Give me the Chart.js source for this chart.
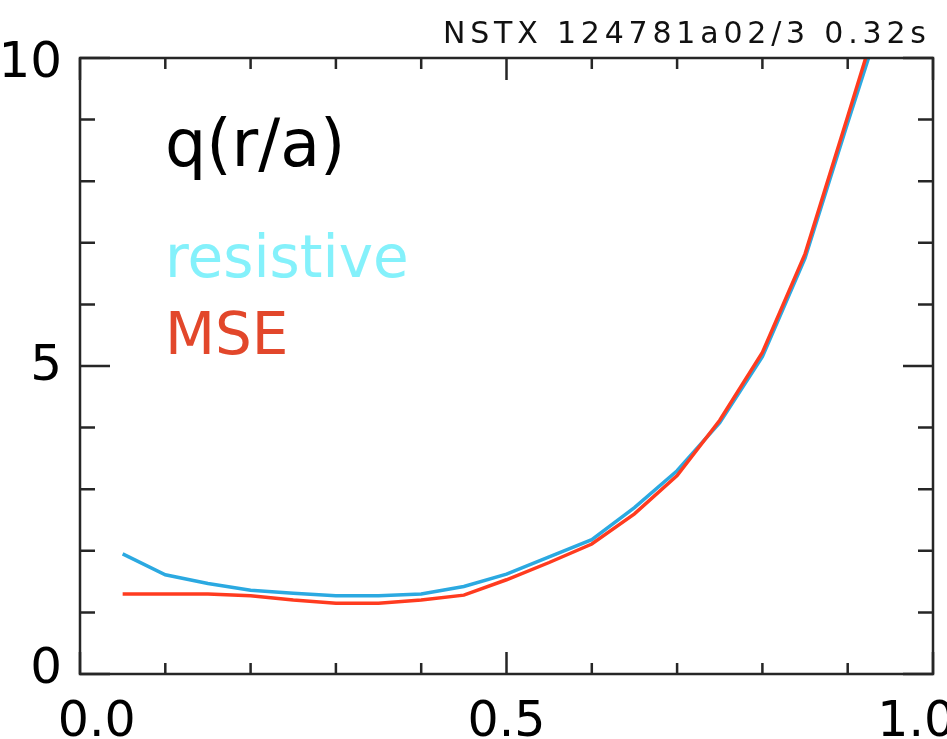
<!DOCTYPE html>
<html><head><meta charset="utf-8">
<script src="https://cdn.jsdelivr.net/npm/chart.js@4.4.0/dist/chart.umd.min.js"></script>
<style>html,body{margin:0;padding:0;background:#fff;overflow:hidden}canvas{display:block}</style>
</head><body>
<canvas id="c" width="947" height="739"></canvas>
<script>
// r/a grid and q profiles
const rOverA      = [0.05,0.10,0.15,0.20,0.25,0.30,0.35,0.40,0.45,0.50,0.55,0.60,0.65,0.70,0.75,0.80,0.85,0.90,0.95];
const qResistive  = [1.95,1.61,1.47,1.36,1.31,1.27,1.27,1.30,1.42,1.62,1.90,2.18,2.70,3.30,4.08,5.15,6.75,8.95,11.1];
const qMSE        = [1.30,1.30,1.30,1.27,1.20,1.15,1.15,1.20,1.28,1.53,1.81,2.11,2.60,3.22,4.12,5.22,6.82,9.05,11.3];

const xTickValues = [0, 0.5, 1.0];
const xTickLabels = ['0.0', '0.5', '1.0'];
const xMinorTicks = [0.1, 0.2, 0.3, 0.4, 0.6, 0.7, 0.8, 0.9];
const yTickValues = [0, 5, 10];
const yTickLabels = ['0', '5', '10'];
const yMinorTicks = [1, 2, 3, 4, 6, 7, 8, 9];

const titleText = 'NSTX 124781a02/3 0.32s';
const panelLabel = 'q(r/a)';
const seriesNames = ['resistive', 'MSE'];

const AXIS = '#262626';

const framePlugin = {
  id: 'frame',
  afterDatasetsDraw(chart) {
    const ctx = chart.ctx, a = chart.chartArea;
    const xs = chart.scales.x, ys = chart.scales.y;
    ctx.save();
    ctx.strokeStyle = AXIS;
    ctx.lineWidth = 2.5;
    ctx.strokeRect(a.left, a.top, a.right - a.left, a.bottom - a.top);
    ctx.beginPath();
    const xt = (v, len) => {
      const p = xs.getPixelForValue(v);
      ctx.moveTo(p, a.bottom); ctx.lineTo(p, a.bottom - len);
      ctx.moveTo(p, a.top); ctx.lineTo(p, a.top + len);
    };
    const yt = (v, len) => {
      const p = ys.getPixelForValue(v);
      ctx.moveTo(a.left, p); ctx.lineTo(a.left + len, p);
      ctx.moveTo(a.right, p); ctx.lineTo(a.right - len, p);
    };
    xMinorTicks.forEach(v => xt(v, 11));
    xTickValues.forEach(v => xt(v, 22));
    yMinorTicks.forEach(v => yt(v, 15));
    yTickValues.forEach(v => yt(v, 30));
    ctx.stroke();
    ctx.restore();
  },
  afterDraw(chart) {
    const ctx = chart.ctx;
    ctx.save();
    ctx.textBaseline = 'alphabetic';
    ctx.textAlign = 'left';
    ctx.font = '65px "DejaVu Sans"';
    ctx.fillStyle = '#000';
    ctx.fillText(panelLabel, 165, 166);
    ctx.font = '58px "DejaVu Sans"';
    ctx.fillStyle = '#84F1FB';
    ctx.fillText(seriesNames[0], 165, 277);
    ctx.fillStyle = '#E2472B';
    ctx.fillText(seriesNames[1], 165, 354);
    // title
    ctx.font = '30px "DejaVu Sans"';
    ctx.fillStyle = '#111';
    const w = ctx.measureText(titleText).width;
    const sp = Math.max(0, (483 - w) / (titleText.length - 1));
    if ('letterSpacing' in ctx) ctx.letterSpacing = sp.toFixed(2) + 'px';
    ctx.fillText(titleText, 443, 43);
    ctx.restore();
  }
};

const pts = ys => rOverA.map((x, i) => ({x, y: ys[i]}));

new Chart(document.getElementById('c'), {
  type: 'line',
  data: {
    datasets: [
      { label: seriesNames[0], data: pts(qResistive), borderColor: '#2BA9E1', borderWidth: 3.5, pointRadius: 0, tension: 0, order: 1 },
      { label: seriesNames[1], data: pts(qMSE), borderColor: '#FF3B1F', borderWidth: 3.5, pointRadius: 0, tension: 0, order: 0 }
    ]
  },
  options: {
    responsive: false,
    animation: false,
    devicePixelRatio: 1,
    layout: { padding: { left: 0, right: 14, top: 58, bottom: 0 } },
    plugins: { legend: { display: false }, tooltip: { enabled: false }, title: { display: false } },
    scales: {
      x: { type: 'linear', min: 0, max: 1, display: false },
      y: { type: 'linear', min: 0, max: 10, display: false },
      xl: {
        type: 'linear', position: 'bottom', min: -0.0205, max: 1.0205,
        afterBuildTicks: s => { s.ticks = xTickValues.map(v => ({ value: v })); },
        ticks: { callback: (v, i) => xTickLabels[i], font: { family: 'DejaVu Sans', size: 49 }, color: '#000', padding: 20, maxRotation: 0, minRotation: 0, autoSkip: false },
        grid: { display: false, drawTicks: false },
        border: { display: false },
        afterFit: s => { s.height = 65; s.paddingLeft = 0; s.paddingRight = 0; }
      },
      yl: {
        type: 'linear', position: 'left', min: -0.066, max: 10.099,
        afterBuildTicks: s => { s.ticks = yTickValues.map(v => ({ value: v })); },
        ticks: { callback: (v, i) => yTickLabels[i], font: { family: 'DejaVu Sans', size: 50 }, color: '#000', padding: 18, autoSkip: false },
        grid: { display: false, drawTicks: false },
        border: { display: false },
        afterFit: s => { s.width = 80; s.paddingTop = 0; s.paddingBottom = 0; }
      }
    }
  },
  plugins: [framePlugin]
});
</script>
</body></html>
